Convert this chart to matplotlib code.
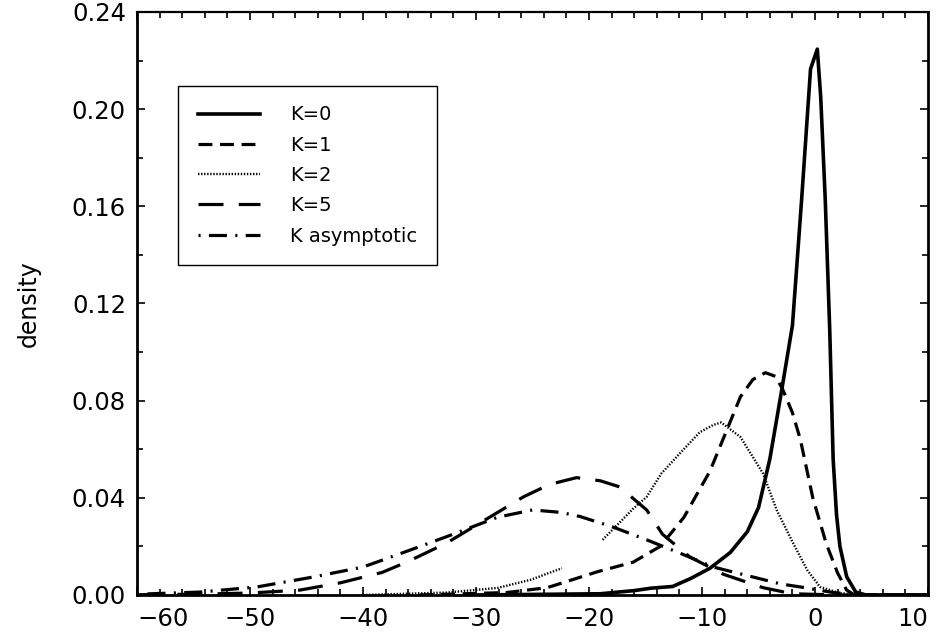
import numpy as np
import matplotlib
matplotlib.use('Agg')
import matplotlib.pyplot as plt

plt.rcParams['font.family'] = ['DejaVu Sans']
plt.rcParams['lines.scale_dashes'] = False

# density curves
k0_x = [-30, -19, -16, -14.5, -12.6, -11, -9.3, -7.5, -6, -5, -4, -3, -2, -1.2, -0.4, 0.2,
        0.5, 0.9, 1.3, 1.6, 1.9, 2.2, 2.8, 3.6, 4.5, 10]
k0_y = [0.0, 0.0005, 0.0018, 0.0028, 0.0035, 0.0068, 0.011, 0.0175, 0.026, 0.036, 0.056,
        0.083, 0.111, 0.162, 0.2165, 0.2247, 0.205, 0.163, 0.109, 0.056, 0.033, 0.02, 0.0075,
        0.0012, 0.0, 0.0]

k1_x = [-35, -27.3, -23.7, -19.3, -16.1, -13.7, -11.6, -9.3, -7.8, -6.6, -5.5, -4.4, -3.5,
        -2.9, -2, -1.3, -0.2, 1.0, 2.0, 2.8, 3.5, 10]
k1_y = [0.0, 0.001, 0.003, 0.0095, 0.0135, 0.02, 0.032, 0.051, 0.068, 0.0816, 0.0887, 0.0915,
        0.090, 0.085, 0.075, 0.064, 0.040, 0.021, 0.009, 0.002, 0.0, 0.0]

# the scan shows a break in the K=2 curve between -22 and -19
k2_x = [-40, -32.6, -28.1, -25.2, -22.4, -20.5, -18.8, -16.1, -14.9, -13.6, -11.9, -10.2,
        -9.0, -8.3, -6.6, -4.6, -3.4, -1.95, -0.7, 0.44, 2.2, 4, 10]
k2_y = [0.0, 0.001, 0.0029, 0.0062, 0.011, np.nan, 0.0227, 0.0355, 0.0404, 0.050, 0.0586,
        0.067, 0.070, 0.071, 0.065, 0.050, 0.035, 0.0214, 0.0103, 0.0033, 0.0008, 0.0, 0.0]

k5_x = [-60, -55, -50, -45.6, -42, -38.3, -36.1, -32.6, -28.8, -25.8, -23.5, -21.1, -19,
        -17.3, -14.9, -13.5, -11.1, -8.1, -4.6, -2, 2, 10]
k5_y = [0.0001, 0.0003, 0.0008, 0.002, 0.005, 0.0093, 0.0136, 0.0214, 0.032, 0.0404, 0.0455,
        0.0483, 0.047, 0.0445, 0.035, 0.025, 0.0157, 0.0085, 0.003, 0.0005, 0.0, 0.0]

ka_x = [-60, -54.4, -49.4, -44.4, -40, -37, -32.6, -28.1, -25, -22.5, -20.8, -17.9, -14.9,
        -12, -9, -5.5, -3, -1.3, 1.6, 4, 10]
ka_y = [0.0003, 0.0012, 0.0033, 0.0074, 0.0115, 0.0165, 0.024, 0.032, 0.035, 0.034, 0.0323,
        0.028, 0.0227, 0.0173, 0.0115, 0.0074, 0.0045, 0.0033, 0.001, 0.0, 0.0]

labels = ['K=0', 'K=1', 'K=2', 'K=5', 'K asymptotic']

fig = plt.figure(figsize=(9.47, 6.43), dpi=100)
ax = fig.add_axes([0.1447, 0.0747, 0.8353, 0.9067])

ax.plot(k0_x, k0_y, color='black', lw=2.6, label=labels[0])
ax.plot(k1_x, k1_y, color='black', lw=2.3, linestyle=(0, (10, 5.5)), label=labels[1])
ax.plot(k2_x, k2_y, color='black', lw=1.7, linestyle=(0, (1, 1.2)), label=labels[2])
ax.plot(k5_x, k5_y, color='black', lw=2.3, linestyle=(0, (18, 11)), label=labels[3])
ax.plot(ka_x, ka_y, color='black', lw=2.3, linestyle=(0, (1.5, 6, 13, 6)), label=labels[4])

ax.set_xlim(-60, 10)
ax.set_ylim(0, 0.24)
ax.set_xticks(np.arange(-60, 11, 10))
ax.set_xticks(np.arange(-60, 11, 2), minor=True)
ax.set_yticks(np.arange(0, 0.241, 0.04))
ax.set_yticks(np.arange(0, 0.241, 0.02), minor=True)
ax.set_yticklabels(['%.2f' % v for v in np.arange(0, 0.241, 0.04)])

ax.tick_params(which='both', direction='in', top=True, right=True, width=1.2,
               labelsize=17.5, colors='black')
ax.tick_params(which='major', length=6)
ax.tick_params(which='minor', length=4)
ax.tick_params(axis='x', pad=9)
ax.tick_params(axis='y', pad=8)

xl = ax.get_xticklabels()
xl[0].set_horizontalalignment('left')
xl[-1].set_horizontalalignment('right')

for side in ['left', 'bottom', 'right']:
    ax.spines[side].set_linewidth(2.0)
ax.spines['top'].set_linewidth(1.6)

ax.set_ylabel('density', fontsize=17, labelpad=22)

leg = ax.legend(loc='upper left', bbox_to_anchor=(0.052, 0.873), borderaxespad=0,
                fontsize=14, handlelength=3.2, handletextpad=1.55, labelspacing=0.58,
                fancybox=False, framealpha=1, edgecolor='black', borderpad=1.0)
leg.get_frame().set_linewidth(1.0)

fig.savefig('out.png', dpi=100)
